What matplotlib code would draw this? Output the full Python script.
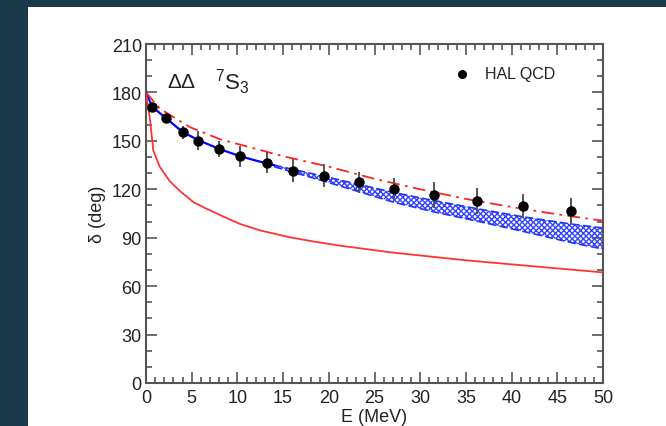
import numpy as np
import matplotlib
matplotlib.use("Agg")
from matplotlib import pyplot as plt
from matplotlib.patches import Rectangle
from matplotlib.ticker import MultipleLocator

plt.rcParams["font.family"] = ["Liberation Sans", "DejaVu Sans"]
plt.rcParams["mathtext.fontset"] = "custom"
plt.rcParams["mathtext.rm"] = "Liberation Sans"
plt.rcParams["mathtext.it"] = "Liberation Sans"

# HAL QCD lattice points
E_hal = [0.7, 2.2, 4.0, 5.7, 8.0, 10.3, 13.2, 16.1, 19.5, 23.3, 27.1, 31.5, 36.2, 41.2, 46.5]
d_hal = [171.2, 164.2, 155.3, 150.1, 145.0, 140.4, 136.3, 131.5, 128.4, 124.3, 120.2, 116.7, 113.0, 109.5, 106.4]
err_hal = [1.5, 2.0, 4.0, 6.0, 5.0, 6.5, 6.5, 7.0, 7.0, 6.5, 7.0, 8.0, 8.0, 7.5, 8.0]

# red solid curve
E_red = [0, 0.2, 0.4, 0.8, 1.5, 2.6, 3.7, 5.2, 6.6, 8.5, 10.3, 12.5, 15.7, 18.5, 21.2, 26.7, 30, 35, 40, 45, 50]
d_red = [179, 172, 165, 144, 134, 125, 119, 112, 108, 103, 98.5, 94.5, 90.3, 87.5, 85.1, 81, 79, 76, 73.5, 71, 68.5]

# red dash-dot curve
E_dd = [0, 1.5, 4.8, 8.1, 11.4, 15, 20, 25, 30, 35, 40, 45, 50]
d_dd = [180, 170, 158.5, 151, 146, 140.5, 134, 126.5, 120, 114, 109, 104.5, 100.5]

# blue solid curve (low energy part)
E_blue = [0, 0.7, 2.2, 4.0, 5.7, 8.0, 10.3, 12, 14]
d_blue = [180, 171, 164, 155.5, 150.5, 145, 140.5, 137.8, 135]

# blue band
E_band = [14, 19.5, 23.3, 27.1, 31.5, 36.2, 41.2, 46.5, 50]
band_hi = [135, 128, 123, 118, 113, 108, 103, 98.5, 96]
band_lo = [134, 125, 118.5, 112, 106, 100.3, 94, 87, 83]

fig = plt.figure(figsize=(6.66, 4.27), dpi=100, facecolor="#1a3a4b")
fig.patches.append(Rectangle((28 / 666, 0), 1, (427 - 8) / 427, transform=fig.transFigure,
                             facecolor="white", edgecolor="none", zorder=-10))
ax = fig.add_axes([146 / 666, 43 / 427, 457 / 666, 339 / 427])

ax.fill_between(E_band, band_lo, band_hi, facecolor="none", edgecolor="#3344ff",
                hatch="xxxxxx", linewidth=0, zorder=2)
ax.plot(E_band, band_hi, color="#2233ff", lw=1.2, ls=(0, (5, 2)), zorder=3)
ax.plot(E_band, band_lo, color="#2233ff", lw=1.2, ls=(0, (5, 2)), zorder=3)
ax.plot(E_blue, d_blue, color="#0000ff", lw=1.6, zorder=3)

ax.plot(E_red, d_red, color="#ff3333", lw=1.3, zorder=3)
ax.plot(E_dd, d_dd, color="#ff2222", lw=1.3, ls=(0, (7, 3, 1.5, 3)), zorder=3)

ax.errorbar(E_hal, d_hal, yerr=err_hal, fmt="o", color="black", ecolor="#555555",
            elinewidth=1.4, markersize=6.5, capsize=0, zorder=4)

ax.plot([34.6], [191.5], "o", color="black", markersize=5.5)
ax.text(37.1, 191.5, "HAL QCD", fontsize=11.5, va="center", color="#222222")
ax.text(2.3, 187, "ΔΔ", fontsize=15, va="center", color="#222222")
ax.text(7.6, 187, r"$^{7}\mathrm{S}_{3}$", fontsize=16, va="center", color="#222222")

ax.set_xlim(0, 50)
ax.set_ylim(0, 210)
ax.xaxis.set_major_locator(MultipleLocator(5))
ax.xaxis.set_minor_locator(MultipleLocator(1))
ax.yaxis.set_major_locator(MultipleLocator(30))
ax.yaxis.set_minor_locator(MultipleLocator(10))
ax.tick_params(which="both", direction="in", top=True, right=True, colors="#555555",
               labelcolor="#222222", labelsize=13, width=1.2)
ax.tick_params(which="major", length=8)
ax.tick_params(axis="x", which="major", pad=4)
ax.tick_params(axis="y", which="major", pad=3)
ax.tick_params(which="minor", length=4)
for s in ax.spines.values():
    s.set_color("#555555")
    s.set_linewidth(1.5)

ax.set_xlabel("E (MeV)", fontsize=13, color="#222222", labelpad=2)
ax.set_ylabel("δ (deg)", fontsize=13, color="#222222", labelpad=4)

fig.savefig("out.png", dpi=100, facecolor=fig.get_facecolor())
